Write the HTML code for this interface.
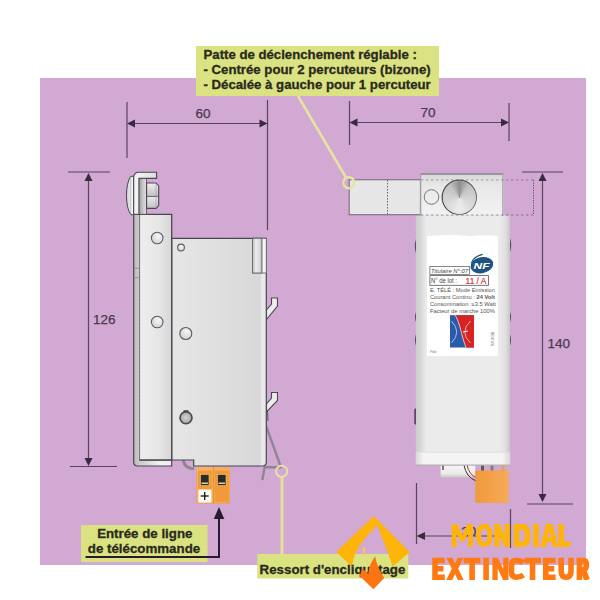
<!DOCTYPE html>
<html><head><meta charset="utf-8">
<style>
html,body{margin:0;padding:0;background:#fff;width:600px;height:600px;overflow:hidden}
svg{display:block;position:absolute;left:0;top:0}
text{font-family:"Liberation Sans",sans-serif}
</style></head><body>
<svg width="600" height="600" viewBox="0 0 600 600">
<defs>
  <linearGradient id="gPlate" x1="0" x2="1" y1="0" y2="0">
    <stop offset="0" stop-color="#eeeeee"/><stop offset="0.6" stop-color="#e6e6e6"/><stop offset="1" stop-color="#d6d6d6"/>
  </linearGradient>
  <linearGradient id="gBody" x1="0" x2="1" y1="0" y2="0">
    <stop offset="0" stop-color="#e6e6e6"/><stop offset="0.5" stop-color="#dfdfdf"/><stop offset="0.93" stop-color="#d8d8d8"/><stop offset="0.955" stop-color="#eaeaea"/><stop offset="1" stop-color="#e8e8e8"/>
  </linearGradient>
  <linearGradient id="gTab" x1="0" x2="1" y1="0" y2="0">
    <stop offset="0" stop-color="#b8b8b8"/><stop offset="0.35" stop-color="#ececec"/><stop offset="0.8" stop-color="#d8d8d8"/><stop offset="1" stop-color="#9a9a9a"/>
  </linearGradient>
  <linearGradient id="gStrip" x1="0" x2="1" y1="0" y2="0">
    <stop offset="0" stop-color="#9c9c9c"/><stop offset="0.5" stop-color="#c8c8c8"/><stop offset="1" stop-color="#e0e0e0"/>
  </linearGradient>
  <linearGradient id="gArm" x1="0" x2="1" y1="0" y2="0">
    <stop offset="0" stop-color="#f6f6f6"/><stop offset="1" stop-color="#dedede"/>
  </linearGradient>
  <linearGradient id="gDome" x1="0" x2="1" y1="0" y2="0">
    <stop offset="0" stop-color="#c8c8c8"/><stop offset="0.6" stop-color="#f2f2f2"/><stop offset="1" stop-color="#fafafa"/>
  </linearGradient>
  <linearGradient id="gNut" x1="0" x2="0" y1="0" y2="1">
    <stop offset="0" stop-color="#f0f0f0"/><stop offset="0.45" stop-color="#c8c8c8"/><stop offset="0.55" stop-color="#e8e8e8"/><stop offset="1" stop-color="#c4c4c4"/>
  </linearGradient>
  <radialGradient id="gHole" cx="0.6" cy="0.35" r="0.7">
    <stop offset="0" stop-color="#f6f6f6"/><stop offset="1" stop-color="#d0d0d0"/>
  </radialGradient>
  <linearGradient id="gRBody" x1="0" x2="1" y1="0" y2="0">
    <stop offset="0" stop-color="#cdcdcd"/><stop offset="0.06" stop-color="#dadada"/><stop offset="0.11" stop-color="#ebebeb"/><stop offset="0.88" stop-color="#ebebeb"/><stop offset="0.95" stop-color="#e0e0e0"/><stop offset="1" stop-color="#c6c6c6"/>
  </linearGradient>
  <linearGradient id="gHead" x1="0" x2="0" y1="0" y2="1">
    <stop offset="0" stop-color="#d8d8d8"/><stop offset="0.3" stop-color="#e8e8e8"/><stop offset="1" stop-color="#f2f2f2"/>
  </linearGradient>
  <radialGradient id="gKnob" cx="0.5" cy="0.4" r="0.6">
    <stop offset="0" stop-color="#f0f0f0"/><stop offset="0.6" stop-color="#d0d0d0"/><stop offset="1" stop-color="#a0a0a0"/>
  </radialGradient>
  <linearGradient id="gKnob2" x1="0" x2="1" y1="0" y2="1">
    <stop offset="0" stop-color="#ffffff" stop-opacity="0.7"/><stop offset="0.5" stop-color="#ffffff" stop-opacity="0"/><stop offset="1" stop-color="#000" stop-opacity="0.15"/>
  </linearGradient>
  <linearGradient id="gCap" x1="0" x2="1" y1="0" y2="0">
    <stop offset="0" stop-color="#d8d8d8"/><stop offset="0.08" stop-color="#f4f4f4"/><stop offset="0.92" stop-color="#f4f4f4"/><stop offset="1" stop-color="#d8d8d8"/>
  </linearGradient>
  <linearGradient id="gBack" x1="0" x2="1" y1="0" y2="0">
    <stop offset="0" stop-color="#b8b8b8"/><stop offset="0.1" stop-color="#c8c8c8"/><stop offset="0.7" stop-color="#f2f2f2"/><stop offset="1" stop-color="#eeeeee"/>
  </linearGradient>
  <radialGradient id="gHole2" cx="0.5" cy="0.5" r="0.5">
    <stop offset="0" stop-color="#d4d4d4"/><stop offset="0.7" stop-color="#b4b4b4"/><stop offset="1" stop-color="#8a8a8a"/>
  </radialGradient>
  <linearGradient id="gOr" x1="0" x2="1" y1="0" y2="0">
    <stop offset="0" stop-color="#f09a3c"/><stop offset="1" stop-color="#f6aa58"/>
  </linearGradient>
  <linearGradient id="gWB" x1="0" x2="0" y1="0" y2="1">
    <stop offset="0" stop-color="#f6f6f6"/><stop offset="0.7" stop-color="#ececec"/><stop offset="1" stop-color="#c8c8c8"/>
  </linearGradient>
</defs>

<!-- purple background -->
<rect x="40" y="78" width="546" height="487" fill="#d1a9d2"/>

<!-- top callout -->
<line x1="298" y1="96" x2="346" y2="177.5" stroke="#e8e2a0" stroke-width="2.6"/>
<rect x="196" y="46" width="243" height="50" fill="#dae282"/>
<g font-size="13.2" font-weight="bold" fill="#2a2a1c" stroke="#2a2a1c" stroke-width="0.3">
<text x="203.5" y="59.3">Patte de déclenchement réglable :</text>
<text x="203.5" y="74">- Centrée pour 2 percuteurs (bizone)</text>
<text x="203.5" y="88.5">- Décalée à gauche pour 1 percuteur</text>
</g>

<!-- dimensions -->
<g stroke="#5a4462" stroke-width="1.2" fill="none">
  <line x1="127" y1="102" x2="127" y2="158"/>
  <line x1="267.5" y1="100" x2="267.5" y2="230"/>
  <line x1="134" y1="123.5" x2="261" y2="123.5"/>
  <line x1="349.5" y1="101" x2="349.5" y2="145"/>
  <line x1="509" y1="103" x2="509" y2="141"/>
  <line x1="356" y1="122.5" x2="502" y2="122.5"/>
  <line x1="68" y1="172" x2="110" y2="172"/>
  <line x1="88.5" y1="180" x2="88.5" y2="459"/>
  <line x1="70" y1="466.5" x2="117" y2="466.5"/>
  <line x1="522" y1="172" x2="563" y2="172"/>
  <line x1="542.5" y1="180" x2="542.5" y2="495"/>
  <line x1="527" y1="504" x2="573" y2="504"/>
  <line x1="416.5" y1="483" x2="416.5" y2="544"/>
  <line x1="510.5" y1="509" x2="510.5" y2="548"/>
  <line x1="424" y1="536" x2="510" y2="536"/>
</g>
<g fill="#3a2a40">
  <polygon points="127,123.5 135,119.5 135,127.5"/>
  <polygon points="267.5,123.5 259.5,119.5 259.5,127.5"/>
  <polygon points="349.5,122.5 357.5,118.5 357.5,126.5"/>
  <polygon points="509,122.5 501,118.5 501,126.5"/>
  <polygon points="88.5,173 84.5,181 92.5,181"/>
  <polygon points="88.5,466 84.5,458 92.5,458"/>
  <polygon points="542.5,173 538.5,181 546.5,181"/>
  <polygon points="542.5,502 538.5,494 546.5,494"/>
  <polygon points="416.5,536 425,532 425,540"/>
</g>
<g font-size="13.5" fill="#4a3850" stroke="#4a3850" stroke-width="0.25">
  <text x="195.5" y="118.4">60</text>
  <text x="420.6" y="116.8">70</text>
  <text x="93" y="323.8">126</text>
  <text x="547.5" y="347.8">140</text>
  <text x="461.3" y="535.8">20</text>
</g>

<!-- LEFT_DEVICE -->
<g stroke="#4a4652" stroke-width="1.1">
  <path d="M266.5,310 L271.5,304 L271.5,298 L277.5,298 L277.5,306 L266.5,319.5 Z" fill="#ececec"/>
  <path d="M266.5,404 L271.5,398 L271.5,392.5 L277.5,392.5 L277.5,400.5 L266.5,412 Z" fill="#ececec"/>
</g>
<line x1="267.5" y1="411" x2="268" y2="421" stroke="#5a5060" stroke-width="1"/>
<!-- spring -->
<polyline points="266.5,427 281,467.3 264.6,467.3 262.3,480" fill="none" stroke="#8e8694" stroke-width="2.4" stroke-linejoin="round"/>
<!-- cable arc -->
<path d="M183.2,460 Q184.5,468.5 194,468.8" fill="none" stroke="#8e8694" stroke-width="3"/>
<!-- body -->
<path d="M171.7,238.3 L266.3,238.3 L266.3,462 Q266.3,466 262.3,466 L193.7,466 L193.7,460 L171.7,460 Z" fill="url(#gBody)" stroke="#4a4652" stroke-width="1.2"/>
<!-- right tab -->
<rect x="252.5" y="238.3" width="13.8" height="34.7" fill="#f4f4f4" stroke="#6a6670" stroke-width="0.9"/>
<rect x="252.5" y="238.3" width="9.5" height="34.7" fill="url(#gTab)" stroke="#6a6670" stroke-width="0.9"/>
<!-- plate back -->
<path d="M133.7,214.3 L139.7,214.3 L139.7,460 L171.7,460 L171.7,466 L137.7,466 Q133.7,466 133.7,462 Z" fill="url(#gBack)" stroke="#4a4652" stroke-width="1.2"/>
<!-- plate front -->
<rect x="139.7" y="214.3" width="32" height="245.7" fill="url(#gPlate)"/>
<line x1="139.7" y1="214.3" x2="139.7" y2="460" stroke="#6a6670" stroke-width="0.8" stroke-dasharray="1.2,1.2"/>
<polyline points="139.7,460 171.7,460 171.7,214.3 133.7,214.3" fill="none" stroke="#4a4652" stroke-width="1.3"/>
<line x1="133.7" y1="268.3" x2="139.7" y2="268.3" stroke="#8a8690" stroke-width="0.8"/>
<line x1="133.7" y1="277.7" x2="139.7" y2="277.7" stroke="#8a8690" stroke-width="0.8"/>
<!-- holes -->
<g stroke="#5e5a64" stroke-width="1.1" fill="url(#gHole)">
  <circle cx="157.2" cy="238" r="5.8"/>
  <circle cx="157.2" cy="322" r="5.8"/>
  <circle cx="181" cy="247.5" r="3.4"/>
  <circle cx="185.8" cy="333.5" r="6"/>
</g>
<circle cx="186" cy="417.7" r="6" fill="url(#gHole2)" stroke="#4a4652" stroke-width="1.6"/>
<rect x="183.5" y="410.2" width="5" height="2" fill="#4a4652"/>
<!-- top knob assembly -->
<path d="M133.7,176.3 L130.8,176.3 C125,184 125,207 130.8,214.7 L133.7,214.7 Z" fill="url(#gDome)" stroke="#4a4652" stroke-width="1"/>
<line x1="130.8" y1="177" x2="130.8" y2="214" stroke="#9a96a0" stroke-width="0.6"/>
<path d="M133.7,214.3 L133.7,177.5 Q133.7,172.2 139,172.2 L156.6,172.2 L156.6,178.4 L139.1,178.4 L139.1,214.3 Z" fill="url(#gArm)" stroke="#4a4652" stroke-width="1.1"/>
<rect x="139.1" y="178.4" width="7.5" height="35.9" fill="url(#gStrip)" stroke="#4a4652" stroke-width="0.8"/>
<path d="M146.6,183 L156,183 L158.7,186 L158.7,205.5 L156,208.4 L146.6,208.4 Z" fill="url(#gNut)" stroke="#4a4652" stroke-width="1.1"/>
<line x1="146.6" y1="196.3" x2="158" y2="196.3" stroke="#55505c" stroke-width="1"/>
<line x1="156" y1="183.5" x2="156" y2="208" stroke="#9a96a0" stroke-width="0.6"/>

<!-- RIGHT_DEVICE -->
<rect x="440.6" y="463" width="34.7" height="14.6" rx="2" fill="url(#gWB)"/>
<line x1="443" y1="465" x2="443" y2="470" stroke="#555" stroke-width="1.5"/>
<path d="M464,465 Q466,477 476,481" fill="none" stroke="#333" stroke-width="1"/>
<path d="M467,465 Q469,475 477,478" fill="none" stroke="#b03030" stroke-width="1"/>
<rect x="481" y="464" width="3" height="7" fill="#5a5a5a"/>
<rect x="490.5" y="464" width="3" height="7" fill="#808080"/>
<rect x="501.5" y="464" width="3" height="7" fill="#f0a050"/>
<rect x="475.3" y="470.5" width="33.3" height="32.5" fill="url(#gOr)"/>
<!-- body -->
<rect x="415.8" y="215.5" width="94.4" height="249.5" rx="1.5" fill="url(#gRBody)"/>
<rect x="415.8" y="452" width="94.4" height="13" fill="url(#gCap)"/>
<line x1="418" y1="452.3" x2="508" y2="452.3" stroke="#dcdcdc" stroke-width="0.8"/>
<line x1="415.8" y1="465.2" x2="510.2" y2="465.2" stroke="#b0b0b0" stroke-width="1.3"/>
<g fill="#5a4a66">
  <path d="M416,239 Q413.6,246 416,253 Z"/>
  <path d="M416,312 Q414,317 416,322 Z"/>
  <path d="M416,334 Q414,340 416,346 Z"/>
  <path d="M416,408 L414.2,409.5 L414.2,423.5 L416,425 Z"/>
  <path d="M510,238 Q512.4,245 510,252 Z"/>
  <path d="M510,312 Q512,317 510,322 Z"/>
  <path d="M510,334 Q512,340 510,346 Z"/>
</g>
<!-- tab -->
<rect x="349.2" y="179.7" width="71.3" height="35" fill="#e6e6e6" stroke="#84748a" stroke-width="1.2"/>
<line x1="387.5" y1="180" x2="387.5" y2="214.5" stroke="#666" stroke-width="1" stroke-dasharray="1.5,1.5"/>
<!-- head -->
<rect x="420.5" y="173.5" width="83" height="42" fill="url(#gHead)"/>
<line x1="420.5" y1="174" x2="503.5" y2="174" stroke="#8a7e8e" stroke-width="1.4"/>
<line x1="420.8" y1="174" x2="420.8" y2="215.5" stroke="#9a96a0" stroke-width="1"/>
<line x1="502.8" y1="174" x2="502.8" y2="215.5" stroke="#b4b0b8" stroke-width="1.6"/>
<g fill="none" stroke="#000" stroke-opacity="0.24" stroke-width="1.3" stroke-dasharray="2.4,2.6">
  <line x1="421" y1="179.8" x2="533.5" y2="179.8"/>
  <line x1="421" y1="215" x2="533.5" y2="215"/>
</g>
<line x1="533.5" y1="180" x2="533.5" y2="214.7" stroke="#5a4a66" stroke-width="1" stroke-dasharray="1.2,1.3"/>
<circle cx="431.5" cy="197" r="7.3" fill="none" stroke="#6a6a70" stroke-width="0.9"/>
<circle cx="459.2" cy="197.2" r="17" fill="#d0d0d0" stroke="#505050" stroke-width="1.3"/>
<!-- label -->
<path d="M427,236 Q450,234 470,236 Q485,234.5 498,236 L498,356 L427,356 Z" fill="#ffffff"/>
<g transform="translate(481.9,265.2) rotate(-12)">
  <ellipse cx="0" cy="0" rx="11.5" ry="8" fill="#1f5482"/>
  <path d="M-10,-4 Q-6,-10.5 3,-10.5" fill="none" stroke="#1f5482" stroke-width="1.2"/>
</g>
<text x="473.5" y="269.3" font-size="9.5" font-weight="bold" font-style="italic" fill="#fff" textLength="16" lengthAdjust="spacingAndGlyphs">NF</text>
<rect x="429.9" y="266.5" width="39.6" height="7.8" fill="none" stroke="#555" stroke-width="0.7"/>
<text x="431" y="272.8" font-size="6" font-style="italic" fill="#444" textLength="37" lengthAdjust="spacingAndGlyphs">Titulaire N°:07</text>
<rect x="429.9" y="275.6" width="58.5" height="9.7" fill="none" stroke="#555" stroke-width="0.8"/>
<text x="431" y="283" font-size="7" fill="#444" textLength="26" lengthAdjust="spacingAndGlyphs">N° de lot :</text>
<text x="465.6" y="283.5" font-size="8.5" fill="#c83848" stroke="#c83848" stroke-width="0.2" textLength="20.8" lengthAdjust="spacingAndGlyphs">11 / A</text>
<g font-size="5.6" fill="#555">
<text x="429.9" y="291.8" textLength="65" lengthAdjust="spacingAndGlyphs">E. TÉLÉ : Mode Emission</text>
<text x="429.9" y="298.8" textLength="65" lengthAdjust="spacingAndGlyphs">Courant Continu : <tspan font-weight="bold">24 Volt</tspan></text>
<text x="429.9" y="305.8" textLength="66" lengthAdjust="spacingAndGlyphs">Consommation :≤3.5 Watt</text>
<text x="429.9" y="312.9" textLength="65" lengthAdjust="spacingAndGlyphs">Facteur de marche 100%</text>
</g>
<rect x="450" y="315.2" width="24" height="32.3" fill="#2a5aa8"/>
<path d="M455,315.2 L474,315.2 L474,347.5 L466,347.5 C461,335 460,322 455,315.2 Z" fill="#d42424"/>
<path d="M455,315.2 C460,322 461,335 466,347.5" fill="none" stroke="#e8d0e0" stroke-width="0.9"/>
<path d="M451.5,321 Q462,332 451.5,343" fill="none" stroke="#a8c0e8" stroke-width="1"/>
<path d="M470.5,321 Q459,332 470.5,343" fill="none" stroke="#f0a8a8" stroke-width="1"/>
<line x1="463" y1="332" x2="468" y2="331" stroke="#fff" stroke-width="1"/>
<text transform="translate(494,346) rotate(-90)" font-size="4" fill="#666">ST-8OB</text>
<text x="430" y="353" font-size="3.5" fill="#888">Pdd</text>

<!-- CALLOUTS -->
<rect x="196.5" y="467" width="33.5" height="36.5" fill="#f29a3a"/>
<rect x="196.5" y="467" width="33.5" height="3.5" fill="#f6b060"/>
<line x1="213.2" y1="467" x2="213.2" y2="503.5" stroke="#e08a28" stroke-width="1"/>
<rect x="197.5" y="468" width="14.8" height="34.5" fill="none" stroke="#f8b868" stroke-width="0.8"/>
<rect x="214.2" y="468" width="15" height="34.5" fill="none" stroke="#f6ac5a" stroke-width="0.8"/>
<rect x="200.5" y="474.5" width="8.5" height="11" fill="#2a2a2a" stroke="#f0d070" stroke-width="0.6"/>
<rect x="217.5" y="474.5" width="8.5" height="11" fill="#2a2a2a" stroke="#f0d070" stroke-width="0.6"/>
<rect x="201.5" y="482.5" width="6.5" height="1.5" fill="#e8d090"/>
<rect x="218.5" y="482.5" width="6.5" height="1.5" fill="#e8d090"/>
<rect x="198.3" y="489.5" width="13.2" height="13" fill="#fffdf6"/>
<g stroke="#222" stroke-width="1.4">
<line x1="200.7" y1="496" x2="208.7" y2="496"/>
<line x1="204.7" y1="492" x2="204.7" y2="500"/>
</g>
<rect x="81" y="525" width="126.5" height="37" fill="#dae282"/>
<g font-size="13.3" font-weight="bold" fill="#2a2a1c" stroke="#2a2a1c" stroke-width="0.3" text-anchor="middle">
<text x="144.8" y="537.8">Entrée de ligne</text>
<text x="144" y="552.8">de télécommande</text>
</g>
<polyline points="85.5,557 219,557 219,516" fill="none" stroke="#2a1a30" stroke-width="2"/>
<polygon points="219,507 213.8,519 224.3,519" fill="#2a1a30"/>
<line x1="282" y1="476" x2="282" y2="554" stroke="#e4df9c" stroke-width="3"/>
<circle cx="281.7" cy="471.3" r="5.6" fill="none" stroke="#e8e2a2" stroke-width="2"/>
<rect x="257.3" y="554" width="151" height="24.5" fill="#dae282"/>
<path d="M373.7,516 L409.7,552 L392.3,566.7 C389,552 380,535 377.7,525.3 C369,533.5 353.5,548 352.3,566.7 L336.3,552 Z" fill="#ffb40a"/>
<path d="M363.5,547 C362,551 363,554 365,556 C364.5,552 365,550 366,548 Z" fill="#ffc850"/>
<text x="259.6" y="574" font-size="13.3" font-weight="bold" fill="#2a2a1c" stroke="#2a2a1c" stroke-width="0.3">Ressort d'encliquetage</text>
<circle cx="348.8" cy="182.7" r="5.5" fill="none" stroke="#e8e2a2" stroke-width="2.4"/>

<!-- LOGO -->
<clipPath id="cw1"><rect x="440" y="523.8" width="140" height="23.2"/></clipPath>
<clipPath id="cw2"><rect x="425" y="557.6" width="175" height="22.4"/></clipPath>
<g clip-path="url(#cw1)" fill="#ffb40a">
<path d="M451.7,547 L451.7,523.8 L457,523.8 L462.3,535 L467.6,523.8 L473,523.8 L473,547 L468.2,547 L468.2,533 L464.2,541.5 L460.4,541.5 L456.5,533 L456.5,547 Z"/>
<path d="M494.3,547 L494.3,523.8 L499.6,523.8 L504.5,535.5 L504.5,523.8 L509.7,523.8 L509.7,547 L504.4,547 L499.5,535.5 L499.5,547 Z"/>
<path fill-rule="evenodd" d="M540.3,547 L546,523.8 L552.6,523.8 L558.3,547 L552.8,547 L551.7,542 L547,542 L545.8,547 Z M547.9,537.5 L549.3,530 L550.8,537.5 Z"/>
<g fill="none" stroke="#ffb40a" stroke-width="5.6">
<rect x="478.8" y="526.3" width="10.9" height="18.2" rx="5.45" stroke-width="5"/>
<path d="M516.5,523.8 L516.5,547 M516.5,526.6 L521,526.6 Q527.5,526.6 527.5,533 L527.5,538 Q527.5,544.2 521,544.2 L516.5,544.2"/>
<path d="M536,523.8 L536,547"/>
<path d="M561.1,523.8 L561.1,544.2 L570.3,544.2"/>
</g>
</g>
<g clip-path="url(#cw2)" fill="#ff7a12">
<path d="M446.2,557.6 L452.2,557.6 L455,563.5 L457.8,557.6 L463.7,557.6 L458.2,568.8 L463.7,580 L457.8,580 L455,574 L452.2,580 L446.2,580 L451.8,568.8 Z"/>
<path d="M492.4,580 L492.4,557.6 L497.8,557.6 L503.2,569 L503.2,557.6 L508.5,557.6 L508.5,580 L503.1,580 L497.7,568.5 L497.7,580 Z"/>
<g fill="none" stroke="#ff7a12" stroke-width="5.6">
<path d="M444.8,560.4 L435,560.4 L435,577.2 L444.8,577.2 M435,568.8 L443.5,568.8"/>
<path d="M463.7,560.4 L480.5,560.4 M472.1,560.4 L472.1,580"/>
<path d="M486.1,557.6 L486.1,580"/>
<path d="M523.4,562.6 Q520.5,560.4 516.5,560.4 Q511.5,560.4 511.5,565.5 L511.5,572 Q511.5,577.2 516.5,577.2 Q520.5,577.2 523.4,575"/>
<path d="M524.1,560.4 L540.9,560.4 M532.5,560.4 L532.5,580"/>
<path d="M555.6,560.4 L545.8,560.4 L545.8,577.2 L555.6,577.2 M545.8,568.8 L554.3,568.8"/>
<path d="M561.2,557.6 L561.2,571 Q561.2,577.2 566.1,577.2 Q571,577.2 571,571 L571,557.6"/>
<path d="M579.4,557.6 L579.4,580 M579.4,560.4 L583,560.4 Q586.4,560.4 586.4,565 Q586.4,569.5 583,569.5 L579.4,569.5"/>
<path d="M583,569 L587,580" stroke-width="5.8"/>
</g>
</g>
<path d="M375.1,556.3 Q377,567 384.2,578 L373.4,589.2 L359.7,576 L362.3,568.5 L368.3,574 C369,566 372,561 375.1,556.3 Z" fill="#ff7412"/>
</svg>
<div style="position:absolute;left:442.8px;top:180.8px;width:32.8px;height:32.8px;border-radius:50%;background:conic-gradient(from 0deg,#8e8e8e 0deg,#c4c4c4 40deg,#d8d8d8 110deg,#ececec 180deg,#d8d8d8 250deg,#c4c4c4 320deg,#8e8e8e 360deg)"></div>
<div style="position:absolute;left:442.8px;top:180.8px;width:32.8px;height:32.8px;border-radius:50%;background:radial-gradient(circle at 50% 50%,rgba(255,255,255,0) 0%,rgba(255,255,255,0) 55%,rgba(0,0,0,0.06) 100%)"></div>
</body></html>
